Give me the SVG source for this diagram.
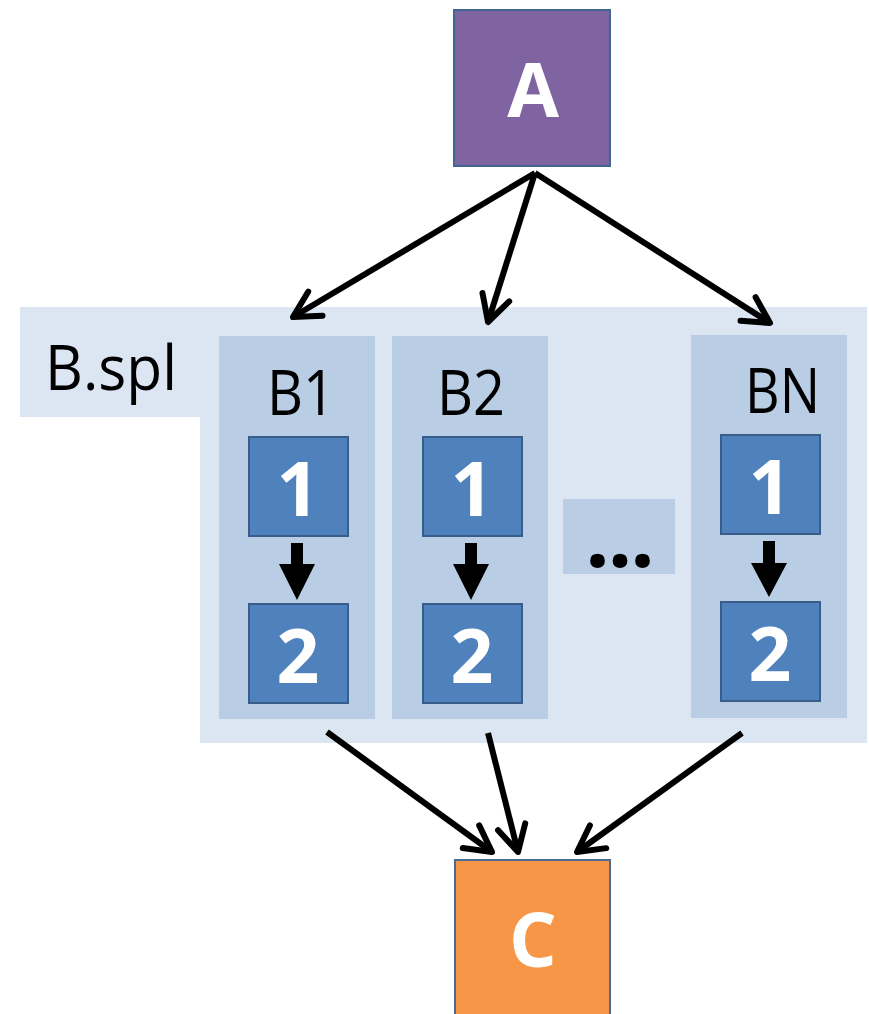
<svg xmlns="http://www.w3.org/2000/svg" width="869" height="1014" viewBox="0 0 869 1014">
  <defs>
    <style>
      .panel { fill: #DCE6F2; }
      .col { fill: #B9CDE5; }
      .step { fill: #4F81BD; stroke: #385D8A; stroke-width: 2; }
      .lbl { font-family: "Open Sans", "Liberation Sans", Arial, sans-serif; font-size: 63px; fill: #000; }
      .big { font-family: "Open Sans", "Liberation Sans", Arial, sans-serif; font-weight: bold; fill: #fff; text-anchor: middle; }
      .conn { stroke: #000; stroke-width: 6; fill: none; marker-end: url(#open); }
      .block { fill: #000; }
    </style>
    <marker id="open" markerUnits="userSpaceOnUse" markerWidth="44" markerHeight="44" viewBox="-34 -22 44 44" refX="0" refY="0" orient="auto">
      <path d="M -26 -14 L 0 0 L -26 14" fill="none" stroke="#000" stroke-width="6" stroke-linecap="round" stroke-linejoin="round"/>
    </marker>
  </defs>

  <g id="B.spl">
    <path class="panel" d="M 20 307 H 867 V 743 H 200 V 417 H 20 Z"/>
    <text class="lbl" x="45" y="390" textLength="132" lengthAdjust="spacingAndGlyphs">B.spl</text>
  </g>

  <g id="B1">
    <rect class="col" x="219" y="336" width="156" height="383"/>
    <text class="lbl" x="267" y="415" textLength="68" lengthAdjust="spacingAndGlyphs">B1</text>
    <g id="B1-1">
      <rect class="step" x="249" y="437" width="99" height="99"/>
      <text class="big" x="298" y="516" font-size="75">1</text>
    </g>
    <path class="block" d="M 291 543 H 303 V 564 H 315 L 297 600 L 279 564 H 291 Z"/>
    <g id="B1-2">
      <rect class="step" x="249" y="604" width="99" height="99"/>
      <text class="big" x="298" y="683" font-size="75">2</text>
    </g>
  </g>

  <g id="B2">
    <rect class="col" x="392" y="336" width="156" height="383"/>
    <text class="lbl" x="437" y="415" textLength="68" lengthAdjust="spacingAndGlyphs">B2</text>
    <g id="B2-1">
      <rect class="step" x="423" y="437" width="99" height="99"/>
      <text class="big" x="472" y="516" font-size="75">1</text>
    </g>
    <path class="block" d="M 465 543 H 477 V 564 H 489 L 471 600 L 453 564 H 465 Z"/>
    <g id="B2-2">
      <rect class="step" x="423" y="604" width="99" height="99"/>
      <text class="big" x="472" y="683" font-size="75">2</text>
    </g>
  </g>

  <g id="ellipsis">
    <rect class="col" x="563" y="499" width="112" height="75"/>
    <text x="619" y="567" font-family="Open Sans, Liberation Sans, Arial, sans-serif" font-weight="bold" font-size="86" text-anchor="middle" fill="#000" letter-spacing="-2">...</text>
  </g>

  <g id="BN">
    <rect class="col" x="691" y="335" width="156" height="383"/>
    <text class="lbl" x="745" y="413" textLength="75" lengthAdjust="spacingAndGlyphs">BN</text>
    <g id="BN-1">
      <rect class="step" x="721" y="435" width="99" height="99"/>
      <text class="big" x="770" y="514" font-size="75">1</text>
    </g>
    <path class="block" d="M 763 541 H 775 V 563 H 787 L 769 597 L 751 563 H 763 Z"/>
    <g id="BN-2">
      <rect class="step" x="721" y="602" width="99" height="99"/>
      <text class="big" x="770" y="681" font-size="75">2</text>
    </g>
  </g>

  <g id="A">
    <rect x="454" y="10" width="156" height="156" fill="#8064A2" stroke="#3F6592" stroke-width="2"/>
    <text class="big" x="533" y="117" font-size="75">A</text>
  </g>

  <g id="C">
    <rect x="455" y="860" width="155" height="160" fill="#F79646" stroke="#4A6A96" stroke-width="2"/>
    <text class="big" x="533" y="967" font-size="75">C</text>
  </g>

  <g id="connectors">
    <line class="conn" x1="535" y1="173" x2="293" y2="317"/>
    <line class="conn" x1="535" y1="173" x2="488" y2="322"/>
    <line class="conn" x1="535" y1="173" x2="770" y2="323"/>
    <line class="conn" x1="327" y1="732" x2="492" y2="852"/>
    <line class="conn" x1="488" y1="733" x2="518" y2="852"/>
    <line class="conn" x1="742" y1="733" x2="577" y2="852"/>
  </g>
</svg>
